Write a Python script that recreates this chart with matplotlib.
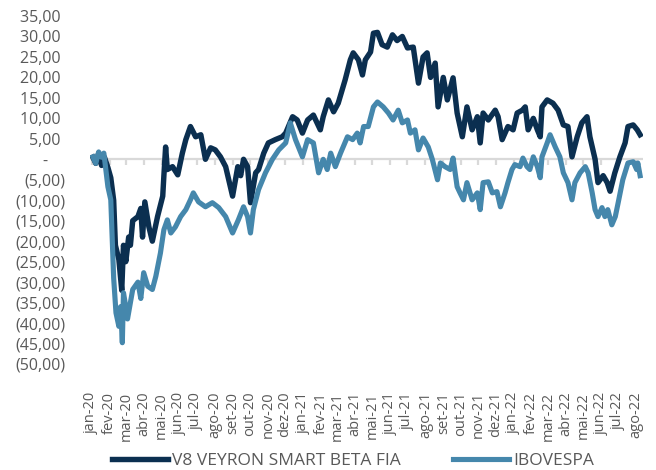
import numpy as np
import pandas as pd
import matplotlib
matplotlib.use("Agg")
import matplotlib.pyplot as plt
import matplotlib.dates as mdates

plt.rcParams['font.family'] = ['Open Sans', 'DejaVu Sans']

# V8 Veyron Smart Beta FIA (cumulative return, %)
v8_dates = ["2020-01-03", "2020-01-08", "2020-01-13", "2020-01-18", "2020-01-23", "2020-01-29",
            "2020-02-03", "2020-02-08", "2020-02-11", "2020-02-17", "2020-02-22", "2020-02-25",
            "2020-02-29", "2020-03-05", "2020-03-08", "2020-03-12", "2020-03-21", "2020-03-26",
            "2020-03-29", "2020-04-02", "2020-04-09", "2020-04-15", "2020-04-24", "2020-05-03",
            "2020-05-05", "2020-05-08", "2020-05-11", "2020-05-20", "2020-05-29", "2020-06-06",
            "2020-06-12", "2020-06-20", "2020-06-29", "2020-07-08", "2020-07-16", "2020-07-25",
            "2020-08-02", "2020-08-11", "2020-08-20", "2020-09-01", "2020-09-10", "2020-09-15",
            "2020-09-20", "2020-09-27", "2020-10-02", "2020-10-11", "2020-10-16", "2020-10-25",
            "2020-11-02", "2020-11-14", "2020-11-26", "2020-12-02", "2020-12-14", "2020-12-22",
            "2020-12-31", "2021-01-09", "2021-01-19", "2021-01-31", "2021-02-05", "2021-02-14",
            "2021-02-23", "2021-03-03", "2021-03-15", "2021-03-24", "2021-03-29", "2021-04-07",
            "2021-04-14", "2021-04-19", "2021-04-28", "2021-05-03", "2021-05-10", "2021-05-18",
            "2021-05-27", "2021-06-05", "2021-06-13", "2021-06-22", "2021-07-01", "2021-07-11",
            "2021-07-20", "2021-07-28", "2021-08-04", "2021-08-10", "2021-08-18", "2021-08-23",
            "2021-09-01", "2021-09-08", "2021-09-18", "2021-09-25", "2021-10-04", "2021-10-12",
            "2021-10-21", "2021-10-30", "2021-11-04", "2021-11-09", "2021-11-18", "2021-11-30",
            "2021-12-05", "2021-12-12", "2021-12-22", "2021-12-31", "2022-01-07", "2022-01-16",
            "2022-01-21", "2022-01-26", "2022-02-04", "2022-02-11", "2022-02-16", "2022-02-19",
            "2022-02-28", "2022-03-10", "2022-03-19", "2022-03-28", "2022-04-05", "2022-04-12",
            "2022-04-21", "2022-04-29", "2022-05-08", "2022-05-13", "2022-05-22", "2022-05-27",
            "2022-06-05", "2022-06-12", "2022-06-17", "2022-06-25", "2022-07-04", "2022-07-13",
            "2022-07-18", "2022-07-27", "2022-08-03", "2022-08-08"]
v8_values = [0.5, -1.0, 1.5, -1.5, 0.5, -2.0,
             -4.5, -10.0, -21.0, -24.5, -32.0, -21.0,
             -25.0, -19.0, -21.0, -15.0, -14.0, -12.0,
             -19.0, -10.4, -16.5, -20.0, -14.0, -9.0,
             -4.0, 3.0, -2.5, -1.8, -3.8, 1.5,
             4.8, 8.0, 5.5, 6.0, 0.0, 2.8,
             2.3, 0.6, -1.8, -9.0, -1.8, -4.0,
             0.0, -1.8, -10.6, -3.3, -2.5, 1.5,
             4.0, 4.8, 5.5, 6.4, 10.4, 9.6,
             6.4, 9.6, 10.8, 7.2, 10.4, 14.5,
             11.6, 13.7, 19.4, 24.3, 26.0, 24.3,
             20.6, 24.3, 26.2, 30.8, 31.0, 28.0,
             27.4, 30.4, 29.0, 30.0, 27.2, 27.4,
             18.6, 25.0, 26.0, 20.0, 23.5, 12.8,
             20.0, 14.5, 19.9, 11.3, 5.5, 12.8,
             7.2, 10.4, 4.0, 11.3, 9.6, 12.0,
             10.4, 4.8, 8.0, 7.2, 11.3, 12.0,
             12.8, 7.2, 10.0, 7.2, 5.5, 12.8,
             14.5, 13.7, 12.0, 8.4, 8.0, 0.6,
             5.5, 8.9, 10.4, 5.5, 0.0, -5.7,
             -4.0, -5.7, -7.8, -3.4, 0.6, 4.0,
             8.0, 8.4, 7.2, 6.0]

# IBOVESPA (cumulative return, %)
ibov_dates = ["2020-01-03", "2020-01-08", "2020-01-13", "2020-01-18", "2020-01-22", "2020-01-25",
              "2020-01-29", "2020-02-03", "2020-02-08", "2020-02-12", "2020-02-17", "2020-02-20",
              "2020-02-23", "2020-02-25", "2020-02-29", "2020-03-03", "2020-03-12", "2020-03-21",
              "2020-03-26", "2020-03-31", "2020-04-07", "2020-04-15", "2020-04-21", "2020-04-29",
              "2020-05-05", "2020-05-11", "2020-05-17", "2020-05-25", "2020-06-03", "2020-06-12",
              "2020-06-20", "2020-06-25", "2020-07-04", "2020-07-16", "2020-07-28", "2020-08-08",
              "2020-08-20", "2020-09-01", "2020-09-11", "2020-09-20", "2020-09-27", "2020-10-02",
              "2020-10-07", "2020-10-16", "2020-10-28", "2020-11-09", "2020-11-20", "2020-12-02",
              "2020-12-10", "2020-12-19", "2020-12-31", "2021-01-09", "2021-01-19", "2021-01-28",
              "2021-02-05", "2021-02-12", "2021-02-18", "2021-02-26", "2021-03-07", "2021-03-19",
              "2021-03-28", "2021-04-05", "2021-04-10", "2021-04-16", "2021-04-24", "2021-05-03",
              "2021-05-10", "2021-05-20", "2021-05-29", "2021-06-06", "2021-06-15", "2021-06-22",
              "2021-07-01", "2021-07-06", "2021-07-14", "2021-07-20", "2021-07-28", "2021-08-06",
              "2021-08-13", "2021-08-22", "2021-08-27", "2021-09-04", "2021-09-13", "2021-09-18",
              "2021-09-25", "2021-09-30", "2021-10-06", "2021-10-12", "2021-10-21", "2021-10-30",
              "2021-11-04", "2021-11-09", "2021-11-18", "2021-11-25", "2021-12-03", "2021-12-09",
              "2021-12-17", "2021-12-22", "2021-12-29", "2022-01-03", "2022-01-12", "2022-01-17",
              "2022-01-24", "2022-01-29", "2022-02-04", "2022-02-11", "2022-02-16", "2022-02-19",
              "2022-02-28", "2022-03-05", "2022-03-14", "2022-03-22", "2022-03-28", "2022-04-05",
              "2022-04-12", "2022-04-17", "2022-04-26", "2022-05-05", "2022-05-10", "2022-05-17",
              "2022-05-22", "2022-05-27", "2022-06-03", "2022-06-08", "2022-06-13", "2022-06-20",
              "2022-06-26", "2022-07-01", "2022-07-09", "2022-07-18", "2022-07-27", "2022-08-02",
              "2022-08-04", "2022-08-08"]
ibov_values = [0.6, -1.0, 1.8, 0.5, 1.5, -2.0,
               -6.7, -9.9, -29.0, -37.5, -40.8, -36.0,
               -44.8, -32.6, -36.0, -39.0, -31.8, -30.0,
               -34.0, -27.7, -31.0, -31.8, -28.6, -22.9,
               -17.2, -14.8, -18.0, -16.5, -14.0, -12.3,
               -9.9, -8.2, -10.4, -11.6, -10.6, -11.8,
               -14.0, -18.0, -14.8, -11.6, -14.0, -18.0,
               -12.3, -7.4, -3.3, 0.0, 2.3, 4.0,
               8.9, 4.8, 0.6, 4.8, 4.0, -3.3,
               0.0, -2.5, 1.5, -1.8, 1.5, 5.5,
               4.8, 6.4, 4.0, 8.0, 8.0, 12.8,
               14.0, 12.8, 11.3, 9.6, 12.0, 8.9,
               9.6, 6.4, 7.2, 2.3, 5.2, 3.0,
               0.0, -5.0, -0.9, -1.8, -2.5, 0.3,
               -6.7, -8.2, -9.9, -5.7, -9.9, -8.2,
               -12.3, -5.7, -5.5, -8.2, -7.9, -11.6,
               -8.2, -5.7, -2.5, -1.3, -1.8, 0.3,
               -1.8, -2.5, 0.6, -1.8, -4.5, 0.6,
               4.0, 6.0, 3.0, 0.6, -3.3, -5.7,
               -9.9, -5.7, -3.3, -1.8, -3.3, -8.2,
               -12.3, -14.0, -11.8, -14.0, -12.3, -16.0,
               -14.0, -10.6, -5.0, -0.9, -0.6, -2.5,
               -0.9, -4.0]

y_ticks = [35, 30, 25, 20, 15, 10, 5, 0, -5, -10, -15, -20, -25, -30, -35, -40, -45, -50]
month_abbr = ["jan", "fev", "mar", "abr", "mai", "jun", "jul", "ago", "set", "out", "nov", "dez"]
months = pd.date_range("2020-01-01", "2022-08-01", freq="MS")

dark = "#0b2f50"
light = "#4587ac"
grey = "#595959"

def fmt(v):
    if v == 0:
        return "-    "
    s = f"{abs(v):.2f}".replace(".", ",")
    return f"({s})" if v < 0 else s + " "

fig = plt.figure(figsize=(6.56, 4.70), dpi=100)
ax = fig.add_axes([90 / 656, 1 - 364 / 470, 553 / 656, 348 / 470])

ax.plot(pd.to_datetime(v8_dates), v8_values, color=dark, lw=3.9,
        solid_joinstyle="round", label="V8 VEYRON SMART BETA FIA", zorder=3)
ax.plot(pd.to_datetime(ibov_dates), ibov_values, color=light, lw=3.7,
        solid_joinstyle="round", label="IBOVESPA", zorder=4)

# zero line with month tick marks
ax.axhline(0, color="#d9d9d9", lw=1.6, zorder=1)
ax.vlines(months, -1.3, 0, color="#d9d9d9", lw=1.6, zorder=1)

ax.set_xlim(pd.Timestamp("2019-12-29"), pd.Timestamp("2022-08-13"))
ax.set_ylim(-50, 35)

ax.set_yticks(y_ticks)
ax.set_yticklabels([fmt(v) for v in y_ticks])
ax.set_xticks(months)
ax.set_xticklabels([f"{month_abbr[d.month - 1]}-{d.year % 100:02d}" for d in months], rotation=90)

ax.tick_params(axis="y", length=0, pad=18, labelsize=11.5, labelcolor=grey)
ax.tick_params(axis="x", length=0, pad=20, labelsize=10.5, labelcolor=grey)
for s in ax.spines.values():
    s.set_visible(False)

fig.legend(loc="center", bbox_to_anchor=(353 / 656, 1 - 461 / 470), ncol=2, frameon=False,
           fontsize=12.5, labelcolor=grey, handlelength=3.2, columnspacing=3.0,
           handletextpad=0.25)

fig.savefig("out.png", dpi=100)
